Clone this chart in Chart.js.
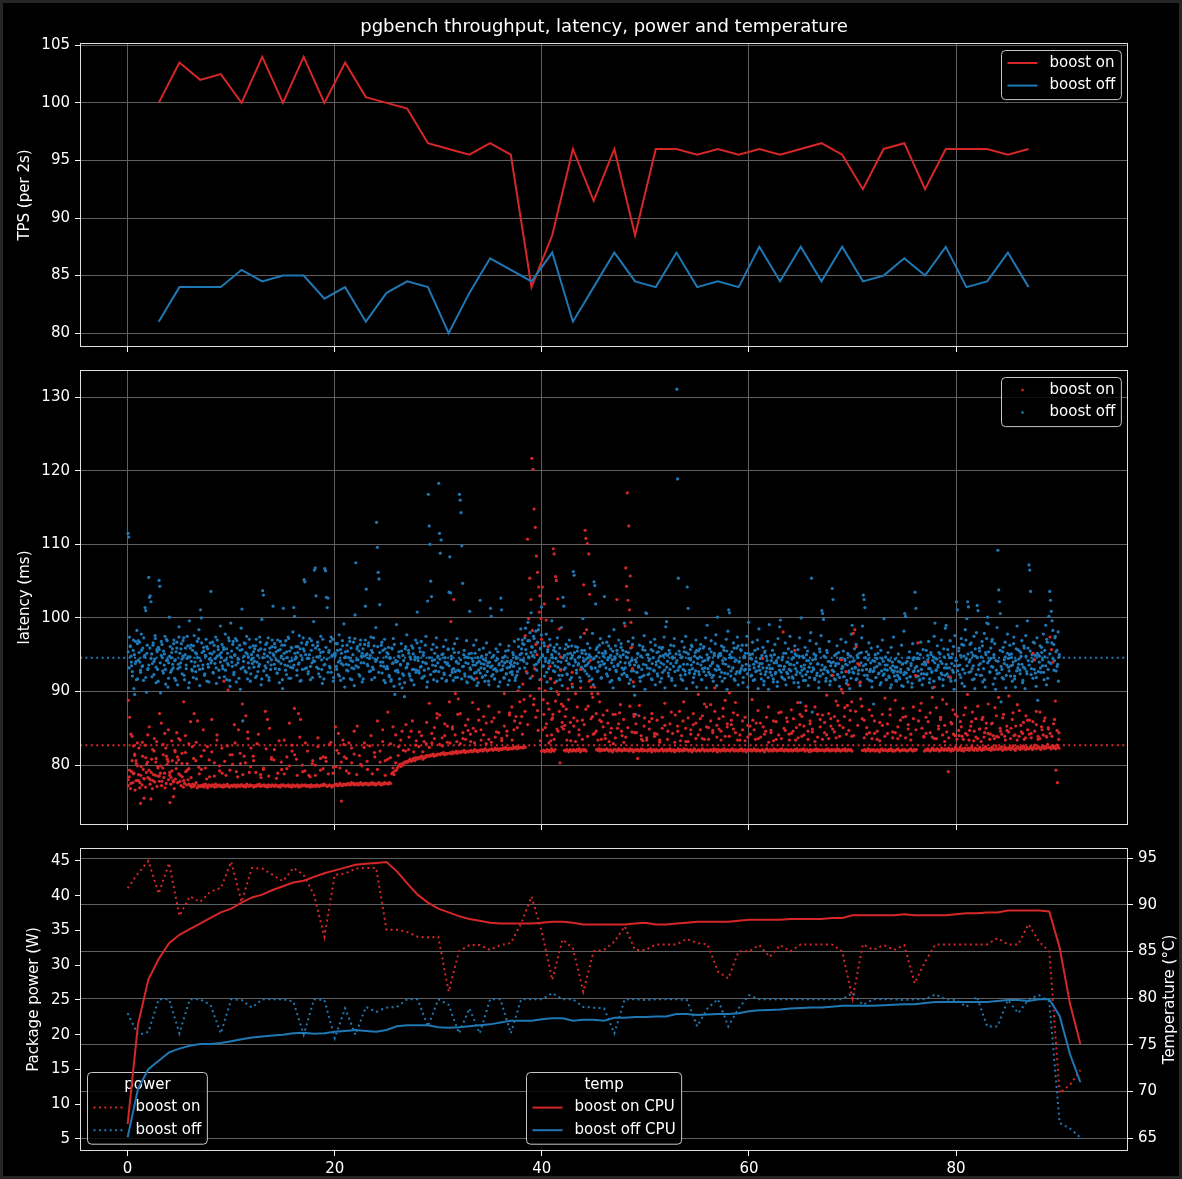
<!DOCTYPE html>
<html>
<head>
<meta charset="utf-8">
<title>pgbench throughput, latency, power and temperature</title>
<script src="https://cdn.jsdelivr.net/npm/chart.js@4.4.1/dist/chart.umd.min.js"></script>
<style>
  html, body { margin: 0; padding: 0; background: #262626; }
  #fig { position: absolute; left: 3px; top: 3px; width: 1176px; height: 1173px; background: #000; }
  canvas { position: absolute; left: 0; top: 0; }
</style>
</head>
<body>
<div id="fig"></div>
<canvas id="tps" width="1182" height="1179"></canvas>
<canvas id="lat" width="1182" height="1179"></canvas>
<canvas id="pow" width="1182" height="1179"></canvas>
<script>
// ---------- throughput (TPS per 2 s window) ----------
const tpsTimes = [3,5,7,9,11,13,15,17,19,21,23,25,27,29,31,33,35,37,39,41,43,45,47,49,51,53,55,57,59,61,63,65,67,69,71,73,75,77,79,81,83,85,87];
const tpsBoostOn = [100,103.5,102,102.5,100,104,100,104,100,103.5,100.5,100,99.5,96.5,96,95.5,96.5,95.5,84,88.5,96,91.5,96,88.5,96,96,95.5,96,95.5,96,95.5,96,96.5,95.5,92.5,96,96.5,92.5,96,96,96,95.5,96];
const tpsBoostOff = [81,84,84,84,85.5,84.5,85,85,83,84,81,83.5,84.5,84,80,83.5,86.5,85.5,84.5,87,81,84,87,84.5,84,87,84,84.5,84,87.5,84.5,87.5,84.5,87.5,84.5,85,86.5,85,87.5,84,84.5,87,84];

// ---------- per-transaction latency (ms), grouped by second of the run ----------
// boost on: the steady floor of each second
const latencyOnBase = [
  [77.2,78.4,76.8,79.1,77.6,78.9,76.6,80.2,77.9],
  [77.9,76.9,78.6,77.3,79.4,78.1,77.0,80.1,78.3],
  [78.2,77.4,79.0,76.8,78.7,77.7,80.4,77.1,78.5],
  [77.8,78.9,77.2,79.6,78.3,76.9,77.5,80.8,78.0],
  [78.6,77.4,79.2,77.9,76.8,78.1,80.3,77.6,78.8],
  [77.8,77.2,78.4,77.0,77.5,79.1,77.3,78.0,77.4],
  [77.2,77.0,77.4,77.1,77.3,77.6,76.9,77.2,77.1],
  [77.2,77.1,77.3,77.0,77.4,77.2,76.9,77.3,77.2],
  [77.1,77.3,77.2,77.0,77.4,77.1,77.2,77.3,77.1],
  [77.2,77.0,77.3,77.1,77.2,77.4,77.1,77.0,77.2],
  [77.2,77.1,77.3,77.2,77.0,77.3,77.2,77.1,77.3],
  [77.3,77.1,77.2,77.0,77.4,77.2,77.1,77.3,77.2],
  [77.2,77.0,77.2,77.1,77.3,77.2,77.4,77.1,77.2],
  [77.2,77.3,77.1,77.2,77.0,77.3,77.2,77.1,77.3],
  [77.2,77.1,77.3,77.2,77.1,77.2,77.0,77.3,77.2],
  [77.3,77.2,77.1,77.2,77.3,77.1,77.2,77.0,77.3],
  [77.2,77.1,77.2,77.3,77.0,77.2,77.1,77.3,77.2],
  [77.2,77.3,77.1,77.2,77.2,77.0,77.3,77.1,77.2],
  [77.2,77.1,77.3,77.2,77.1,77.2,77.3,77.2,77.4],
  [77.3,77.2,77.1,77.2,77.3,77.2,77.0,77.2,77.3],
  [77.3,77.4,77.2,77.3,77.5,77.3,77.2,77.4,77.3],
  [77.4,77.3,77.5,77.4,77.3,77.6,77.4,77.5,77.3],
  [77.4,77.5,77.3,77.4,77.6,77.4,77.3,77.5,77.4],
  [77.5,77.4,77.3,77.5,77.4,77.6,77.4,77.5,77.3],
  [77.4,77.5,77.6,77.4,77.3,77.5,77.4,77.6,77.5],
  [77.5,77.4,77.6,77.5,78.8,79.0,78.7,79.2,79.3],
  [79.6,79.9,80.1,79.8,80.2,80.0,80.4,80.3,80.5],
  [80.4,80.6,80.8,80.5,80.7,80.9,80.6,81.0,80.8],
  [81.0,80.9,81.1,81.2,80.8,81.1,81.0,81.3,81.2],
  [81.3,81.2,81.4,81.3,81.5,81.2,81.4,81.3,81.5],
  [81.5,81.4,81.6,81.5,81.7,81.4,81.6,81.5,81.6],
  [81.6,81.7,81.5,81.8,81.6,81.7,81.9,81.6,81.8],
  [81.8,81.7,81.9,81.8,82.0,81.7,81.8,81.9,81.8],
  [81.9,82.0,81.8,81.9,82.1,81.9,82.0,81.8,82.0],
  [82.0,82.1,81.9,82.0,82.2,82.1,81.9,82.0,82.1],
  [82.1,82.2,82.0,82.1,82.3,82.1,82.2,82.0,82.2],
  [82.2,82.1,82.3,82.2,82.4,82.2,82.1,82.3,82.2],
  [82.3,82.2,82.4,82.3,82.5,82.2,82.4,82.3,82.4],
  [82.4,82.3,82.5,82.4,null,null,null,null,null],
  [null,null,null,null,null,null,null,null,81.9],
  [81.9,82.0,81.8,81.9,82.1,81.9,82.0,81.8,82.2],
  [82.0,81.9,82.1,null,null,null,null,null,null],
  [null,82.0,81.9,82.1,82.0,81.8,82.1,82.0,81.9],
  [82.1,82.0,81.9,82.1,82.0,82.2,81.8,82.0,82.1],
  [82.0,82.1,81.9,null,null,null,null,null,null],
  [null,null,82.1,82.0,82.2,81.9,82.1,82.0,82.1],
  [82.0,82.1,82.2,82.0,81.9,82.1,82.0,81.8,82.1],
  [82.1,82.0,81.9,82.2,82.0,82.1,81.9,82.0,82.2],
  [82.0,82.1,82.0,81.9,82.2,82.0,82.1,81.8,82.0],
  [82.1,82.0,82.1,81.9,82.0,82.2,81.9,82.1,82.0],
  [82.0,81.9,82.1,82.0,82.2,81.8,82.0,82.1,81.9],
  [82.1,82.0,81.9,82.0,82.1,82.2,81.9,82.0,82.1],
  [81.9,82.1,82.0,82.2,81.9,82.0,82.1,81.8,82.0],
  [82.0,82.2,81.9,82.1,82.0,81.9,82.2,82.0,82.1],
  [82.1,81.9,82.0,82.1,81.8,82.0,82.2,82.0,81.9],
  [82.0,82.1,81.9,82.0,82.2,82.1,81.9,82.0,82.1],
  [81.9,82.0,82.1,82.0,81.9,82.2,82.0,82.1,81.8],
  [82.1,82.0,81.9,82.1,82.0,82.2,81.9,82.0,82.1],
  [82.0,81.9,82.1,82.2,82.0,81.9,82.1,82.0,81.9],
  [82.1,82.0,82.2,81.9,82.0,82.1,81.8,82.0,82.1],
  [82.0,82.1,81.9,82.0,82.2,82.0,81.9,82.1,82.0],
  [81.9,82.0,82.1,82.0,81.8,82.1,82.2,82.0,81.9],
  [82.1,82.0,81.9,82.2,82.0,82.1,81.9,82.0,82.1],
  [82.0,82.2,82.0,81.9,82.1,82.0,82.1,81.9,82.0],
  [82.1,81.9,82.0,82.1,82.0,82.2,81.9,82.0,82.1],
  [82.0,82.1,82.2,81.9,82.0,82.1,82.0,81.8,82.1],
  [81.9,82.0,82.1,82.0,82.2,81.9,82.1,82.0,82.0],
  [82.1,82.0,81.9,82.1,82.0,82.2,82.0,81.9,82.1],
  [82.0,82.1,82.0,81.9,82.2,82.0,82.1,81.9,82.0],
  [82.1,82.0,82.2,81.9,82.0,82.1,82.0,82.1,81.9],
  [null,null,null,null,null,null,null,null,82.0],
  [82.0,82.1,81.9,82.0,82.2,82.0,81.9,82.1,82.0],
  [82.1,81.9,82.0,82.1,82.0,81.8,82.1,82.2,82.0],
  [82.0,82.1,82.0,81.9,82.1,82.0,82.2,81.9,82.0],
  [81.9,82.0,82.1,82.2,82.0,81.9,82.0,82.1,82.0],
  [82.1,82.0,81.9,82.0,82.1,82.2,82.0,81.9,82.1],
  [82.0,82.1,null,null,null,null,null,null,81.9],
  [82.1,82.0,82.2,82.0,81.9,82.1,82.3,82.0,82.1],
  [82.0,82.2,82.1,81.9,82.0,82.3,82.1,82.0,82.2],
  [82.1,82.0,82.3,82.1,81.9,82.2,82.0,82.1,82.4],
  [82.2,82.0,82.1,82.4,82.0,82.2,81.9,82.3,82.1],
  [82.1,82.3,82.0,82.2,82.5,82.1,82.0,82.3,82.2],
  [82.0,82.2,82.4,82.1,82.0,82.3,82.1,82.5,82.2],
  [82.2,82.1,82.3,82.0,82.4,82.2,82.1,82.6,82.2],
  [82.1,82.3,82.2,82.5,82.0,82.2,82.4,82.1,82.3],
  [82.2,82.4,82.1,82.3,82.6,82.2,82.0,82.3,82.5],
  [82.3,82.1,82.4,82.2,82.6,82.3,82.1,82.4,82.2],
  [82.2,82.5,82.3,82.1,82.4,82.7,82.2,82.3,82.5],
  [82.3,82.1,82.4,82.6,82.2,82.5,82.3,82.8,82.4],
  [82.4,82.2,82.6,82.3,82.5,82.2,82.7,82.4,82.3]
];
// boost on: slower transactions, including the spikes
const latencyOnHigh = [
  [88.8,86.5,84.2,83.9,82.6,81.3,80.6,79.9],
  [82.3,74.8,83.1,75.5,81.0,80.4],
  [85.2,75.4,82.1,83.6,80.9,79.8],
  [87.0,85.7,82.8,84.3,81.2,80.5],
  [74.9,83.3,75.7,81.8,84.4,80.7],
  [83.4,81.6,88.6,84.0,80.2,79.5],
  [85.9,82.5,87.0,80.6,86.0,78.8],
  [81.2,84.8,79.6,82.5,78.4],
  [86.2,80.3,84.1,79.2],
  [82.3,91.4,78.6,90.2,81.4],
  [81.4,85.5,79.1,84.8,80.2],
  [88.3,81.2,86.7,84.5,79.0,82.3],
  [80.6,82.9,78.7],
  [79.4,87.3,86.2,85.0,81.0],
  [82.1,78.9,80.4],
  [83.4,79.5,85.7,81.9],
  [87.7,80.8,87.0,86.2,79.1],
  [83.0,78.6,80.2],
  [80.0,82.5,79.3,81.1],
  [80.5,82.8,78.9],
  [85.2,82.0,84.3,79.6,75.1,83.4,81.1],
  [79.2,83.0,80.3,81.5],
  [85.3,80.1,82.4],
  [79.4,84.0,81.7],
  [86.0,80.4,83.2,78.6],
  [87.2,81.0,85.2,80.3],
  [82.5,84.6,81.9],
  [83.8,86.0,82.7],
  [84.5,81.8,82.9],
  [88.4,83.0,85.1,86.4],
  [86.8,82.6,84.0,85.3],
  [88.6,99.5,84.9,102.5,89.7,83.2,89.0],
  [87.0,83.6,85.4,84.7],
  [84.2,88.5,83.0,91.8,86.1],
  [84.8,86.6,82.9,83.5],
  [85.9,83.8,84.4],
  [83.3,89.7,84.6,87.1],
  [87.9,84.8,86.6,90.1,85.7],
  [86.6,91.0,88.9,97.6,92.7,110.7,99.9,105.4,102.5],
  [121.7,98.3,120.2,88.2,114.8,93.1,112.3,86.5,108.4,95.0,106.2,84.7,104.2,90.4,103.0,83.3,99.9,97.1],
  [104.2,88.9,101.9,85.1,99.7,84.0,96.1,87.6,93.4,83.3,86.2],
  [86.4,109.4,108.7,91.2,105.6,105.1,84.9,102.6,89.6,98.5,80.3,94.7,88.3,85.8],
  [88.0,85.4,87.6,90.4,84.5,83.3,92.6],
  [86.4,89.7,86.0,84.1,93.0,83.5],
  [104.5,97.9,111.9,110.8,98.4,110.1,88.0,108.7,103.2,94.2,90.6,89.7,86.6,84.2],
  [90.6,84.6,89.7,86.1,83.5,85.2],
  [84.1,87.4,83.2,85.0,82.9],
  [86.9,102.5,85.6,88.2,84.0,83.1],
  [98.9,106.8,104.3,117.0,102.4,112.5,101.1,105.7,99.4,96.0,93.1,91.3,86.9,84.4],
  [85.6,80.9,88.1,84.0,83.3,86.4],
  [83.7,85.9,87.0,84.3],
  [86.1,83.4,85.0,88.4],
  [84.6,87.2,83.1],
  [85.3,87.3,84.0,88.6,83.2],
  [86.4,84.2,85.5,83.6],
  [89.6,84.8,86.7,83.5,87.9],
  [85.1,88.2,84.4,90.5,83.8],
  [86.3,84.6,87.7,83.9,85.2],
  [89.8,86.1,84.9,88.5,83.4],
  [84.1,86.0,83.3,85.4],
  [85.3,88.9,84.8,85.7,83.6],
  [85.7,94.5,84.2,86.5,83.1],
  [84.4,86.0,83.5,87.1],
  [87.2,98.1,84.7,85.9,83.4],
  [87.5,84.6,95.6,85.1,83.7,86.9],
  [86.6,84.1,88.0,83.5,85.6],
  [84.9,87.9,83.8,86.2],
  [86.8,84.4,89.5,83.6,85.3],
  [92.2,84.5,88.7,86.0,83.9,94.3],
  [89.8,86.6,92.7,88.1,84.7,87.4,83.9],
  [97.9,98.4,96.1,93.8,93.6,89.0,86.3],
  [86.1,84.2,87.5,83.6],
  [86.0,84.6,83.3,85.4],
  [89.1,84.3,86.8,83.7],
  [88.8,85.2,84.0,86.5],
  [86.6,84.9,83.4,87.9],
  [92.2,96.6,87.4,85.0,83.8],
  [86.5,94.0,84.4,89.2,83.6],
  [87.8,85.3,86.5,84.1,83.2],
  [88.3,79.1,92.0,85.6,84.2,86.9],
  [86.6,84.0,85.2,83.5,87.8],
  [89.6,84.7,85.9,83.3,86.3],
  [88.0,84.9,86.2,83.8,85.0],
  [88.3,84.2,85.7,83.6,86.7],
  [89.2,84.6,86.4,83.9,85.3],
  [89.4,85.0,87.1,84.1,83.4],
  [87.4,84.5,85.8,83.7,86.1],
  [86.1,84.3,95.2,94.3,85.5,83.5],
  [87.2,84.8,86.0,83.9,85.1],
  [97.4,95.7,94.0,86.2,79.3,77.6,84.4]
];
// boost on: the remaining transactions just above the floor
const latencyOnMore = [
  [78.0,79.3,77.5,80.6,78.8,81.5,77.9,83.0],
  [78.7,77.6,79.8,81.2,78.2,82.7,79.0,84.1],
  [79.3,78.0,80.8,77.9,81.9,78.6,83.2,79.6],
  [78.5,79.9,77.8,81.4,78.9,82.3,80.1,84.8],
  [79.0,78.3,80.6,77.7,82.0,79.5,81.1,83.6],
  [78.6,80.2,77.9,81.7,79.3,82.9],
  [78.3,80.9,83.1,79.7],
  [79.4,82.0,78.1,80.7],
  [81.8,78.5,83.4,79.9],
  [78.9,80.5,82.6,79.3],
  [80.1,83.0,78.4,81.6],
  [78.7,80.3,83.6,79.8],
  [81.2,79.0,84.2,78.3],
  [79.6,82.2,78.5,80.8],
  [80.7,78.2,83.3,79.4],
  [78.8,81.1,79.9,82.7],
  [81.4,78.6,83.8,80.0],
  [79.2,81.9,78.4,80.6],
  [78.6,83.7,80.9,79.5],
  [81.0,78.8,83.1,79.7],
  [79.8,81.6,80.4,82.8],
  [80.9,78.9,82.3,84.6],
  [78.7,81.3,79.9,83.0],
  [80.5,82.6,78.8,81.1],
  [79.4,81.9,84.8,80.6],
  [80.8,82.9,79.6,84.1],
  [81.3,83.4,82.0,85.5],
  [82.1,84.6,81.8,83.3],
  [82.5,84.0,83.2,85.8],
  [82.4,84.3,83.6,87.0],
  [82.8,83.7,85.6,83.1],
  [83.0,85.2,84.1,86.9],
  [82.9,84.4,83.5,86.2],
  [83.2,85.0,84.6,87.6],
  [83.4,84.1,85.7,88.0],
  [83.1,86.4,84.5,87.2],
  [83.6,85.3,84.0,86.8],
  [83.4,86.0,85.1,88.6],
  [84.2,87.3,85.5,89.4],
  [92.1,89.0,96.4,87.4,100.8,91.6],
  [84.8,86.9,90.1,85.6,88.4,83.0,91.7,84.1],
  [86.9,83.5,88.7,90.0,84.6,87.3,92.9,85.2],
  [84.9,86.6,83.4,88.9,85.8,91.0],
  [85.3,83.2,87.9,84.8,90.5,86.1],
  [85.5,87.6,83.9,91.4,86.3,89.2],
  [84.3,87.0,83.4,88.6,85.9,86.8],
  [83.6,85.7,84.4,86.9],
  [83.7,85.0,87.1,84.6,86.2],
  [83.8,85.1,88.0,84.5,86.6],
  [84.4,86.7,83.5,85.3],
  [83.4,84.9,86.3,83.9],
  [84.2,83.1,86.5,85.4],
  [83.5,85.6,84.3,86.8],
  [84.6,83.3,86.0,85.0],
  [83.2,84.8,87.0,85.7],
  [84.1,86.3,83.6,88.3,85.2],
  [83.5,86.0,84.7,87.3,85.4],
  [84.9,83.4,86.6,88.8,85.6],
  [83.9,85.5,87.1,84.4,86.8],
  [83.4,84.8,86.5,83.8],
  [84.2,86.1,83.5,87.4],
  [83.8,85.2,84.6,87.9],
  [84.7,83.3,85.9,84.1],
  [83.6,85.0,86.4,84.2],
  [84.3,86.3,83.4,88.5,85.5],
  [83.9,85.3,87.4,84.6,86.0],
  [84.5,83.2,86.9,85.2],
  [83.5,85.8,84.1,87.0,86.3],
  [84.9,86.6,83.7,88.1,85.4,90.3],
  [85.1,87.8,84.2,90.9,86.1,88.6],
  [84.0,87.3,85.4,91.2,88.0],
  [83.7,85.1,84.4,86.7],
  [84.3,83.5,85.8,86.9],
  [83.9,85.6,87.6,84.5],
  [84.4,83.6,86.1,87.7],
  [83.7,85.5,84.2,86.3],
  [84.8,86.0,88.4,83.9],
  [84.3,85.9,87.1,83.8,90.6],
  [83.6,84.9,86.2,88.9,85.4],
  [84.5,83.7,85.8,87.5,84.0],
  [83.5,84.7,85.9,83.9,86.8,84.3],
  [84.1,83.4,85.3,87.2,84.6,83.8],
  [83.6,84.9,83.2,86.5,84.4,85.7],
  [84.3,83.5,85.6,84.0,87.8,83.9],
  [83.8,85.0,84.2,86.9,83.4,84.7],
  [84.5,83.6,86.2,84.0,85.3,88.2],
  [83.9,85.4,84.3,83.5,86.7,84.8],
  [84.2,83.7,85.9,84.6,87.3,83.9],
  [83.6,85.2,84.1,86.4,83.8,84.9],
  [84.3,83.9,85.6,88.7,84.7,83.5]
];
// boost off: outliers first, then the bulk of each second
const latencyOff = [
  [111.5,111.0,97.4,96.2,94.8,93.5,92.1,95.6,90.4,89.6,96.8,94.1,98.3,91.7],
  [96.9,95.3,94.0,92.6,97.8,93.4,95.9,91.5,94.7,101.4,101.0,89.9,96.3,93.1],
  [105.5,102.8,103.0,102.2,95.1,93.8,96.6,92.3,94.4,97.2,91.2,95.7,93.0,96.0],
  [105.1,104.3,89.8,94.9,96.4,92.8,95.5,93.6,97.5,91.0,94.2,96.9,90.6,93.9],
  [100.1,96.1,94.6,92.9,95.8,93.2,97.0,91.8,94.3,95.4,96.7,90.9,93.7,98.8],
  [95.2,93.9,96.5,92.4,94.8,97.3,91.6,95.9,93.1,94.5,96.2,90.5,99.6],
  [94.7,96.3,93.0,95.6,91.9,97.6,94.0,92.7,95.1,96.8,93.5,98.4,90.8],
  [101.1,100.0,95.3,93.6,96.0,92.2,94.9,97.1,91.4,95.8,93.3,94.4,96.6],
  [103.6,94.2,96.7,92.5,95.4,93.8,97.4,91.1,94.8,96.1,92.9,95.0,98.9],
  [94.6,96.4,93.1,95.7,92.0,97.8,94.3,91.6,95.2,93.6,96.9,90.7,99.3],
  [95.5,93.4,96.8,92.6,94.9,97.2,91.3,95.9,93.9,94.4,96.3,90.3,98.6],
  [101.2,86.0,94.1,96.6,92.8,95.3,97.5,91.7,94.7,93.2,96.0,92.4,95.0],
  [94.5,96.2,93.3,95.8,91.9,97.1,94.0,92.7,95.6,93.7,96.7,90.9,99.8],
  [103.7,103.1,95.1,93.5,96.4,92.2,94.8,97.3,91.5,95.9,93.0,94.3,96.1],
  [101.6,94.9,96.5,93.1,95.4,92.5,97.0,94.1,91.2,95.7,93.8,96.3,90.4],
  [101.3,95.2,93.6,96.9,92.3,94.6,97.4,91.8,95.5,93.3,96.0,94.2,98.1],
  [101.4,100.2,94.4,96.1,92.9,95.3,93.7,97.6,91.4,94.9,96.6,93.0,95.8],
  [105.2,104.9,95.0,93.2,96.7,92.4,94.5,97.2,91.6,95.6,93.9,96.3,99.5],
  [106.5,106.8,103.0,94.7,96.2,93.1,95.7,92.0,97.5,94.3,91.1,95.4,93.6],
  [106.7,106.4,102.8,101.4,102.7,95.3,93.4,96.8,92.6,94.8,97.1,91.9,95.1],
  [94.9,96.5,93.0,95.6,92.3,97.7,94.2,91.5,95.2,96.9,93.6,99.2,90.6],
  [95.4,93.7,96.3,92.8,94.6,97.3,91.7,95.9,93.2,94.1,96.7,90.8,100.4],
  [107.5,94.3,96.1,93.3,95.5,92.1,97.0,94.8,91.3,95.8,93.9,96.4,101.6],
  [103.9,95.1,93.5,96.6,92.7,94.9,97.4,91.6,95.3,93.0,96.2,94.4,98.7],
  [113.0,109.6,106.2,105.3,101.8,94.0,96.3,92.5,95.6,93.4,97.1,91.2,94.7],
  [95.3,93.1,96.0,92.0,94.5,91.4,95.9,93.8,97.2,90.7,89.6,94.2,99.1],
  [94.1,92.6,95.4,91.0,93.7,96.5,90.5,94.9,92.2,89.3,95.8,93.2,97.7],
  [93.8,95.6,92.4,94.7,91.6,96.2,93.0,95.1,90.9,94.3,97.0,92.9,100.8],
  [94.6,92.8,95.9,93.3,96.8,91.8,94.0,95.3,92.1,93.9,97.5,90.6,102.3],
  [116.8,112.5,110.0,105.0,102.9,94.2,96.4,92.7,95.2,93.5,97.3,91.4,94.8],
  [118.3,111.5,108.8,110.6,95.0,93.2,96.1,92.3,94.6,97.0,91.5,93.9,95.7],
  [103.5,108.3,103.4,94.4,92.6,95.8,93.1,96.5,91.9,94.0,97.2,92.9,95.3],
  [116.8,116.0,114.3,109.8,104.7,93.4,95.6,92.1,94.7,96.9,91.2,93.8,95.1],
  [100.9,93.0,95.2,91.8,94.1,96.3,92.5,93.6,97.0,90.8,94.6,92.9,95.7],
  [102.4,93.2,94.8,92.0,95.9,93.7,91.4,94.2,96.6,92.7,93.9,90.9,95.3],
  [101.3,100.2,93.5,92.3,94.9,91.7,93.1,95.8,92.8,94.4,90.7,93.8,96.4],
  [102.7,101.1,93.0,94.6,91.9,93.9,95.5,92.4,94.1,90.9,96.2,93.3,92.6],
  [94.2,92.7,95.3,93.4,96.8,91.5,94.7,92.2,93.8,97.1,90.6,95.0,98.5],
  [95.8,97.0,94.3,96.4,93.2,98.6,95.1,92.5,99.4,94.7,96.9,91.8,100.7],
  [96.1,94.8,97.5,93.6,95.4,98.2,92.9,96.7,94.0,99.0,91.6,95.9,101.5],
  [95.0,93.4,96.6,92.1,94.5,97.8,91.3,95.7,93.1,94.2,96.3,90.4,99.6],
  [94.6,92.8,96.0,93.5,95.4,91.4,97.3,94.1,92.2,95.9,93.0,98.7,90.8],
  [102.8,101.6,94.9,93.2,96.4,92.4,95.1,93.8,97.0,91.6,94.5,96.2,90.6],
  [106.3,105.8,94.3,96.1,92.9,95.5,93.6,94.7,91.9,97.4,93.3,95.2,99.9],
  [94.2,95.6,93.5,94.4,92.4,96.5,93.9,95.0,91.5,94.7,93.1,97.9,90.9],
  [104.9,104.4,101.9,94.8,96.0,92.8,95.3,93.4,97.2,91.8,94.1,96.6,93.7],
  [102.9,95.5,93.2,96.7,92.1,94.6,97.5,91.3,95.8,93.9,94.3,90.5,98.4],
  [94.7,96.2,92.7,95.1,93.5,97.0,91.6,94.0,96.5,92.3,95.6,93.0,99.3],
  [93.9,95.4,92.2,94.6,96.8,91.1,93.6,95.9,92.8,94.3,97.3,90.7,89.5],
  [86.9,94.0,92.6,95.2,93.3,96.3,91.4,94.8,92.0,95.7,93.7,97.6,90.3],
  [100.7,100.6,93.2,95.0,92.4,94.4,96.7,91.7,93.8,95.5,92.9,97.1,90.9],
  [93.6,95.3,92.1,94.2,96.0,91.3,93.9,95.8,92.6,94.9,97.4,90.5,98.8],
  [99.5,94.1,92.5,95.6,93.0,96.3,91.8,94.7,93.4,97.2,90.8,95.1],
  [131.1,118.9,105.4,93.3,95.0,92.2,94.6,96.8,91.5,93.7,95.4,92.8,97.5,90.4],
  [104.2,101.3,94.5,92.9,95.7,93.6,96.1,91.2,94.0,92.4,95.3,97.0,90.6],
  [93.8,95.5,92.3,94.7,96.4,91.6,93.1,95.9,92.7,94.2,97.3,90.5,99.0],
  [94.3,92.6,95.8,93.5,96.9,91.9,94.0,92.2,95.2,93.0,97.7,90.8,100.1],
  [93.4,95.1,92.0,94.9,96.2,91.4,93.8,95.6,92.5,94.4,97.1,90.3,98.2],
  [101.1,100.7,94.6,92.8,95.4,93.2,96.6,91.7,94.1,92.4,95.9,97.4,90.9],
  [94.0,92.5,95.7,93.1,96.3,91.2,94.6,92.9,95.2,93.7,97.5,90.6,99.4],
  [93.5,95.0,92.1,94.4,96.7,91.5,93.2,95.6,92.7,94.0,97.0,90.4,98.5],
  [92.9,94.5,91.7,93.8,96.0,90.9,95.3,92.3,94.8,93.2,96.8,90.3,99.1],
  [93.1,94.9,92.2,95.6,91.3,93.9,96.4,92.6,94.2,90.7,97.2,93.5,98.8],
  [99.7,92.6,94.3,91.8,95.2,93.4,96.6,90.9,94.0,92.4,95.8,93.0,97.5],
  [93.7,95.4,92.0,94.6,91.2,96.2,93.1,94.9,92.7,95.7,90.6,97.3,88.5],
  [100.0,92.9,94.8,91.5,93.6,96.0,92.3,94.2,95.5,90.8,93.3,96.9,98.0],
  [105.4,87.2,93.2,95.1,91.8,94.4,96.5,92.5,93.8,90.5,95.8,92.1,97.6],
  [101.0,100.6,99.8,93.0,94.7,91.4,95.6,92.8,94.1,96.8,90.9,93.5,92.2],
  [104.0,102.5,92.7,94.9,91.6,93.8,96.2,92.3,95.3,90.7,94.4,97.1,93.1],
  [93.4,95.5,92.0,94.2,96.7,91.1,93.6,95.0,92.6,90.4,94.8,97.8,99.0],
  [94.1,92.5,95.8,93.3,96.4,91.7,94.6,92.9,95.2,90.8,93.9,97.3,98.9],
  [103.1,102.5,101.4,93.7,95.4,92.2,94.3,96.6,91.5,93.0,95.9,90.6,92.7],
  [88.3,93.2,95.0,91.9,94.5,96.1,92.4,93.8,90.9,95.6,92.8,97.0,94.1],
  [99.9,93.0,94.7,91.6,93.6,95.3,92.1,94.2,90.5,96.0,92.9,93.5,97.4],
  [92.8,94.4,91.5,93.3,92.2,95.1,91.9,94.0,92.6,96.3,93.7,90.7,98.2],
  [100.6,100.2,92.5,94.1,91.3,93.0,95.4,92.0,93.8,90.6,96.5,92.7,94.6],
  [103.5,101.3,93.4,95.2,92.1,94.5,91.6,96.7,93.0,90.9,95.7,92.4,94.0],
  [93.9,95.6,92.4,94.3,96.8,91.2,93.1,95.0,92.7,90.5,94.7,97.5,99.3],
  [94.5,92.9,96.2,93.6,95.3,91.7,94.1,97.0,92.3,90.8,95.8,93.2,98.6],
  [99.0,93.2,95.7,92.0,94.6,96.9,91.4,93.8,95.1,92.6,90.3,97.6,94.2],
  [102.2,101.1,93.5,95.9,92.3,94.9,97.2,91.1,93.0,96.3,90.7,98.4,94.4],
  [99.9,102.2,101.5,94.0,96.4,92.7,95.3,91.6,93.5,97.5,90.4,94.8,98.0],
  [101.7,101.0,93.6,95.5,92.2,94.7,96.8,91.3,93.1,97.9,90.6,95.0,99.3],
  [100.1,99.2,94.2,92.6,95.9,93.4,97.1,91.0,94.6,96.5,90.3,92.9,98.7],
  [109.2,103.8,102.2,100.6,88.6,93.0,95.4,91.7,94.3,96.7,90.5,93.6,97.8],
  [94.5,92.8,96.3,93.5,95.1,91.4,94.0,97.4,92.1,90.6,95.8,98.9,93.2],
  [93.7,95.5,92.4,94.8,96.9,91.2,93.3,95.9,90.4,97.6,92.7,99.6,94.2],
  [107.2,106.5,103.6,93.1,95.0,91.8,94.4,96.6,92.5,90.7,97.3,88.8,94.9],
  [94.0,96.2,92.6,95.3,93.5,97.8,91.6,94.7,99.0,90.9,96.7,93.0,100.2],
  [103.6,102.4,100.9,99.6,98.3,96.4,94.2,97.5,92.8,95.6,93.7,91.4,95.0]
];
// boost off: further transactions in the same seconds (the dense core)
const latencyOffMore = [
  [95.4,93.2,96.1,94.0,92.7,97.0,95.0,93.8,91.6,96.5],
  [94.3,96.7,92.9,95.6,93.5,97.3,94.9,91.9,95.2,93.0],
  [93.6,95.9,94.5,92.0,96.3,94.1,97.6,93.3,95.4,91.4],
  [95.7,93.9,96.8,94.6,92.5,95.1,93.0,97.1,94.3,91.8],
  [94.8,92.6,95.3,93.7,96.5,94.2,91.5,95.9,93.1,97.4],
  [93.3,95.8,94.4,96.9,92.2,95.0,93.6,97.5,94.7,91.2],
  [95.9,94.1,92.8,96.2,93.4,95.3,91.7,94.6,97.2,93.0],
  [94.2,96.6,93.1,95.5,92.4,94.8,96.1,93.7,91.3,95.2],
  [93.9,95.1,92.6,96.3,94.5,93.2,97.0,95.7,91.9,94.0],
  [95.3,93.5,96.0,94.2,92.9,95.8,93.8,97.3,91.5,94.7],
  [94.0,96.4,92.3,95.0,93.6,96.9,94.4,91.8,95.6,93.1],
  [95.7,93.3,94.8,96.5,92.6,95.1,93.9,97.1,91.4,94.3],
  [93.8,95.4,94.1,96.2,92.1,94.9,93.4,97.4,95.8,91.7],
  [94.6,92.8,95.7,93.2,96.6,94.0,91.9,95.3,93.6,97.0],
  [95.1,93.7,96.0,94.3,92.5,95.6,93.0,96.8,94.8,91.6],
  [94.4,96.3,92.9,95.4,93.5,97.2,94.1,91.8,95.9,93.2],
  [93.6,95.2,94.7,92.2,96.1,93.9,95.8,91.5,94.3,97.3],
  [95.5,93.1,96.4,94.5,92.7,95.0,93.4,96.9,91.9,94.2],
  [94.1,95.9,93.3,96.7,92.4,94.8,95.3,93.0,97.1,91.7],
  [93.7,96.0,94.4,92.6,95.6,93.2,97.4,94.9,91.4,95.1],
  [95.2,93.4,96.5,94.0,92.1,95.7,93.8,96.2,91.8,94.6],
  [94.7,92.9,95.5,93.6,96.8,94.2,91.6,95.0,93.1,97.2],
  [93.5,95.8,94.3,92.3,96.4,93.9,95.2,91.7,94.8,97.0],
  [95.0,93.7,96.2,94.5,92.8,95.6,93.3,97.3,91.9,94.1],
  [94.3,96.1,92.6,95.3,93.5,96.7,94.0,91.5,95.8,93.1],
  [93.4,95.1,92.2,94.6,91.6,95.8,93.9,96.4,92.8,94.0],
  [92.9,94.8,91.7,93.6,95.5,92.4,94.2,91.2,96.1,93.3],
  [93.7,95.2,92.1,94.4,91.5,95.9,93.0,94.7,92.6,96.6],
  [94.2,92.5,95.4,93.4,91.9,94.9,92.9,96.3,93.8,91.3],
  [93.1,94.6,92.3,95.7,93.6,91.6,94.3,92.8,96.0,93.9],
  [92.7,94.4,93.3,91.8,95.1,92.5,94.0,91.4,93.7,95.8],
  [93.5,92.2,94.8,93.0,91.5,95.3,92.7,94.1,91.9,93.8],
  [92.8,94.3,91.7,93.4,95.0,92.4,93.9,91.3,94.6,92.0],
  [93.2,92.0,94.5,93.6,91.6,95.2,92.6,93.9,91.2,94.1],
  [92.5,93.8,91.9,94.4,93.1,92.2,95.0,93.5,91.4,94.0],
  [93.3,92.1,94.7,93.0,91.7,94.2,92.8,95.4,93.6,91.3],
  [92.9,94.1,93.5,91.8,94.8,92.4,93.2,95.6,91.5,93.9],
  [93.6,92.3,95.0,93.9,91.9,94.5,92.7,96.1,93.1,94.3],
  [95.2,96.5,94.1,97.3,95.7,93.8,96.9,94.6,98.0,95.3],
  [96.0,94.9,97.2,95.5,93.7,96.6,98.4,94.3,95.8,97.7],
  [94.8,93.5,96.2,94.1,92.6,95.4,93.9,97.1,91.8,95.0],
  [93.9,95.6,92.7,94.5,96.4,93.3,95.1,91.6,94.0,92.2],
  [94.6,93.0,95.8,94.2,92.3,96.1,93.7,95.2,91.9,94.9],
  [93.5,95.3,94.0,92.5,96.0,93.8,94.7,91.4,95.6,93.1],
  [94.1,92.8,95.1,93.6,94.6,92.1,95.9,93.3,91.7,94.4],
  [94.5,93.2,95.7,92.7,94.0,96.3,93.6,91.9,95.2,94.8],
  [93.8,95.2,92.4,94.3,96.2,93.0,94.9,91.5,95.5,93.4],
  [94.4,92.9,95.6,93.7,91.8,94.8,96.0,93.2,95.0,92.5],
  [93.2,94.7,92.0,95.3,93.9,91.6,94.2,96.4,92.8,93.6],
  [94.3,92.6,95.1,93.5,91.9,94.8,93.0,96.1,92.2,95.6],
  [93.6,95.0,92.3,94.2,93.1,95.7,91.6,94.6,92.8,96.3],
  [94.0,92.4,95.4,93.3,94.8,91.8,96.0,93.7,92.9,95.1],
  [93.3,94.9,92.1,95.2,93.8,91.5,94.5,96.2,92.7,93.9],
  [94.2,92.9,95.5,93.4,91.7,94.7,93.0,96.0,92.3,95.3],
  [93.7,95.1,92.5,94.3,96.3,93.1,91.9,94.8,92.8,95.6],
  [94.5,92.7,95.8,93.6,91.6,94.1,96.1,93.2,92.2,95.0],
  [93.1,94.6,92.3,95.4,93.8,91.4,94.9,96.5,92.9,93.5],
  [94.8,93.0,95.2,92.6,94.2,96.0,91.8,93.7,95.5,92.4],
  [93.4,95.0,92.1,94.6,93.2,95.9,91.5,94.3,92.7,96.2],
  [94.1,92.8,95.6,93.5,91.9,94.8,93.0,96.3,92.4,95.2],
  [93.0,94.5,92.2,95.1,93.7,91.6,94.1,92.8,95.8,93.4],
  [93.8,92.4,94.9,93.2,91.4,95.5,92.7,94.2,91.9,93.6],
  [92.6,94.2,93.1,91.7,95.0,92.4,93.9,91.3,94.6,92.9],
  [93.5,92.0,94.7,93.0,91.6,95.2,92.6,94.0,91.9,93.7],
  [92.8,94.4,91.8,93.6,95.1,92.3,93.9,91.2,94.8,92.5],
  [93.4,92.1,94.6,93.1,91.5,95.0,92.7,94.2,91.9,93.8],
  [92.7,94.3,93.0,91.6,94.9,92.2,93.7,91.3,95.4,92.9],
  [93.6,92.4,94.8,93.3,91.8,95.3,92.6,94.1,91.4,93.9],
  [92.9,94.0,91.7,93.5,95.1,92.3,93.8,91.9,94.5,92.6],
  [93.3,92.0,94.4,93.7,91.5,95.2,92.8,94.0,91.8,93.1],
  [92.6,94.2,93.2,91.6,94.9,92.4,93.6,91.3,95.3,92.9],
  [93.5,92.2,94.6,93.0,91.7,95.0,92.7,93.9,91.4,94.2],
  [92.8,94.1,91.9,93.4,95.2,92.5,93.7,91.2,94.5,92.2],
  [92.4,93.6,91.6,92.9,94.3,91.9,93.2,90.9,94.0,92.6],
  [92.1,93.3,91.4,92.7,94.1,91.7,93.0,90.8,93.8,92.3],
  [92.6,93.9,91.8,93.1,94.6,92.0,93.5,91.1,94.3,92.8],
  [93.2,92.0,94.5,92.8,91.5,95.0,92.4,93.7,91.8,94.0],
  [93.6,92.3,94.9,93.1,91.7,95.3,92.6,94.2,91.4,93.9],
  [92.9,94.4,93.3,91.9,95.1,92.5,93.8,91.6,94.7,92.2],
  [93.7,92.4,95.0,93.2,91.8,94.6,92.9,96.1,93.5,91.5],
  [94.2,92.8,95.5,93.6,91.9,96.4,93.0,94.8,92.5,97.0],
  [93.5,95.1,92.6,94.3,96.6,93.1,94.9,91.7,95.8,92.3],
  [94.6,93.0,95.9,93.8,92.2,96.2,94.1,91.6,95.3,97.2],
  [93.9,95.4,92.7,94.5,96.8,93.3,95.0,91.8,94.2,92.4],
  [94.1,92.5,95.6,93.4,91.9,96.0,93.8,94.7,92.2,95.2],
  [93.3,95.0,92.1,94.6,93.6,96.5,91.7,94.2,92.8,95.7],
  [94.4,92.9,95.3,93.7,91.5,96.2,93.1,94.8,92.4,95.9],
  [93.6,95.5,92.3,94.1,96.7,93.0,94.9,91.9,95.2,92.7],
  [94.8,93.2,96.0,94.3,92.6,95.6,93.5,97.1,91.8,94.0],
  [95.1,93.8,96.6,94.5,92.9,97.3,95.4,93.4,98.1,94.7]
];
// run means, drawn as dotted reference lines
const latencyMeanOn = 82.7;
const latencyMeanOff = 94.6;

// ---------- package power (W) and CPU temperature (°C), one sample per second ----------
const powerBoostOn = [41.1,43.2,45.0,40.3,44.7,37.1,39.9,39.1,40.6,41.1,44.9,39.1,44.0,43.9,43.0,42.1,44.0,43.0,40.1,34.1,43.0,43.2,43.9,44.0,44.0,35.1,35.1,34.8,34.1,34.0,34.1,26.2,32.0,32.9,32.9,32.2,32.9,33.2,36.0,39.9,34.8,27.9,33.7,32.4,26.2,32.0,32.2,33.4,35.6,32.2,32.2,33.0,33.0,33.0,33.8,33.2,33.0,29.1,28.1,32.0,32.0,32.9,31.2,32.9,32.0,33.0,33.0,33.0,33.0,32.0,25.2,33.0,32.2,32.9,32.2,32.9,27.4,30.5,33.0,33.0,33.0,33.0,33.0,33.0,33.9,33.0,33.0,35.9,33.4,32.0,11.6,12.8,14.9];
const powerBoostOff = [23.1,20.0,20.4,25.1,25.1,20.2,25.1,25.1,24.3,20.2,25.1,25.0,23.9,25.1,25.1,25.1,24.8,20.0,25.1,25.0,19.5,23.8,20.0,24.0,23.3,23.9,24.0,25.1,25.1,21.2,25.1,24.3,20.2,23.8,20.2,25.1,25.1,20.2,25.1,25.1,25.1,26.0,25.1,25.1,24.0,23.9,23.8,20.2,25.1,25.1,25.0,25.1,25.1,25.1,25.0,21.2,23.8,25.1,21.2,23.8,25.7,25.1,25.1,25.1,25.1,25.1,25.1,25.1,25.1,25.1,26.0,24.3,25.1,25.1,25.1,25.0,25.1,25.1,25.8,25.1,25.0,24.0,25.5,21.2,21.2,25.0,23.1,25.1,25.7,24.8,7.3,6.5,5.2];
const tempBoostOn = [66.5,77.2,82.0,84.2,85.9,86.8,87.4,88.0,88.6,89.2,89.6,90.25,90.8,91.1,91.6,92.0,92.4,92.6,93.0,93.4,93.7,94.0,94.3,94.4,94.5,94.6,93.6,92.3,91.1,90.25,89.6,89.2,88.8,88.5,88.3,88.1,88.0,88.0,88.0,88.0,88.1,88.2,88.2,88.1,87.9,87.9,87.9,87.9,87.9,88.0,88.1,87.9,87.9,88.0,88.1,88.2,88.2,88.2,88.2,88.3,88.4,88.4,88.4,88.4,88.5,88.5,88.5,88.5,88.6,88.6,88.9,88.9,88.9,88.9,88.9,89.0,88.9,88.9,88.9,88.9,89.0,89.1,89.1,89.2,89.2,89.4,89.4,89.4,89.4,89.3,85.4,79.4,75.1];
const tempBoostOff = [65.1,70.3,72.4,73.3,74.2,74.6,74.9,75.1,75.1,75.2,75.4,75.6,75.8,75.9,76.0,76.1,76.25,76.3,76.2,76.25,76.4,76.5,76.6,76.5,76.4,76.6,77.0,77.1,77.1,77.1,76.9,76.85,76.9,77.0,77.1,77.2,77.4,77.6,77.6,77.6,77.75,77.85,77.85,77.6,77.7,77.7,77.6,77.9,77.9,78.0,78.0,78.05,78.05,78.3,78.3,78.2,78.25,78.3,78.3,78.4,78.6,78.7,78.75,78.8,78.9,78.95,79.0,79.0,79.1,79.2,79.2,79.2,79.2,79.25,79.3,79.35,79.35,79.5,79.6,79.6,79.6,79.6,79.6,79.6,79.7,79.8,79.8,79.7,79.9,79.9,78.1,74.0,71.0];

// ---------- axis ticks ----------
const timeTicks = [0, 20, 40, 60, 80];
const tpsTicks = [80, 85, 90, 95, 100, 105];
const latencyTicks = [80, 90, 100, 110, 120, 130];
const powerTicks = [5, 10, 15, 20, 25, 30, 35, 40, 45];
const tempTicks = [65, 70, 75, 80, 85, 90, 95];

// ---------- look ----------
const RED = '#d62728';
const BLUE = '#1f77b4';
const FG = '#ffffff';
const GRID = '#5f5f5f';
const SPINE = '#e0e0e0';
const FONT = 'DejaVu Sans';
const FS = 15;
const DOT_R = 1.6;
const X_RANGE = { min: -4.6, max: 96.6 };

Chart.defaults.font.family = FONT;
Chart.defaults.font.size = FS;
Chart.defaults.color = FG;

const toXY = (xs, ys) => ys.map((y, i) => ({ x: xs[i], y }));
const perSecond = ys => ys.map((y, i) => ({ x: i, y }));
// place the transactions of each second evenly across that second
function spreadBins(bins) {
  const pts = [];
  bins.forEach((vals, sec) => {
    vals.forEach((v, k) => {
      if (v !== null) pts.push({ x: sec + (k + 0.5) / vals.length, y: v });
    });
  });
  return pts;
}
const fixTicks = values => scale => { scale.ticks = values.map(v => ({ value: v })); };

function timeAxis(showLabels, gridOnArea) {
  return {
    type: 'linear', min: X_RANGE.min, max: X_RANGE.max,
    afterBuildTicks: fixTicks(timeTicks),
    afterFit: s => { s.height = showLabels ? 28 : 10; },
    grid: { color: GRID, lineWidth: 1, drawOnChartArea: gridOnArea, drawTicks: true,
            tickLength: 5, tickColor: FG, tickWidth: 1 },
    border: { display: false },
    ticks: { display: showLabels, color: FG, padding: 4, maxRotation: 0, autoSkip: false,
             font: { family: FONT, size: FS } }
  };
}
function valueAxis(o) {
  return {
    type: 'linear', position: o.position || 'left', min: o.min, max: o.max,
    afterBuildTicks: fixTicks(o.ticks),
    afterFit: s => { s.width = o.width; },
    grid: { color: GRID, lineWidth: 1, drawOnChartArea: o.grid, drawTicks: true,
            tickLength: 5, tickColor: FG, tickWidth: 1 },
    border: { display: false },
    ticks: { color: FG, padding: 5, font: { family: FONT, size: FS },
             callback: v => String(v) },
    title: { display: !!o.title, text: o.title || '', color: FG,
             font: { family: FONT, size: FS }, padding: { top: o.titlePad || 0, bottom: 0 } }
  };
}

// axes frame (all four spines)
function drawFrame(chart) {
  const { ctx, chartArea: a } = chart;
  ctx.save();
  ctx.strokeStyle = SPINE;
  ctx.lineWidth = 1;
  ctx.strokeRect(Math.round(a.left) + 0.5, Math.round(a.top) + 0.5,
                 Math.round(a.right - a.left) - 1, Math.round(a.bottom - a.top) - 1);
  ctx.restore();
}

// boxed legend drawn inside the axes
function drawLegendBox(chart, g) {
  const { ctx, chartArea: a } = chart;
  const items = g.datasets.map(i => chart.data.datasets[i]);
  ctx.save();
  ctx.font = FS + 'px "' + FONT + '"';
  const pad = 6, handle = 30, gap = 12, rowH = 22.6, first = 12.5, last = 14;
  const textW = Math.max(...items.map(d => ctx.measureText(d.label).width));
  let w = pad + handle + gap + textW + pad;
  if (g.title) w = Math.max(w, ctx.measureText(g.title).width + 2 * pad);
  const rows = items.length + (g.title ? 1 : 0);
  const h = first + (rows - 1) * rowH + last;
  let x, y;
  if (g.place === 'upper right') { x = a.right - 7 - w; y = a.top + 7; }
  else if (g.place === 'lower left') { x = a.left + 7; y = a.bottom - 7 - h; }
  else { x = (a.left + a.right) / 2 - w / 2; y = a.bottom - 7 - h; }
  x = Math.round(x) + 0.5; y = Math.round(y) + 0.5;
  ctx.beginPath();
  if (ctx.roundRect) ctx.roundRect(x, y, w, h, 4); else ctx.rect(x, y, w, h);
  ctx.fillStyle = 'rgba(0,0,0,0.8)';
  ctx.fill();
  ctx.strokeStyle = '#c8c8c8';
  ctx.lineWidth = 1;
  ctx.stroke();
  ctx.textBaseline = 'middle';
  ctx.fillStyle = FG;
  let row = 0;
  if (g.title) {
    ctx.textAlign = 'center';
    ctx.fillText(g.title, x + w / 2, y + first);
    row = 1;
  }
  ctx.textAlign = 'left';
  items.forEach(d => {
    const cy = y + first + row * rowH;
    const hx = x + pad;
    if (g.handle === 'dot') {
      ctx.beginPath();
      ctx.arc(hx + handle / 2, cy, 1.3, 0, Math.PI * 2);
      ctx.fillStyle = d.backgroundColor;
      ctx.fill();
    } else {
      ctx.beginPath();
      ctx.setLineDash(g.handle === 'dotted' ? [2, 3.4] : []);
      ctx.moveTo(hx, cy);
      ctx.lineTo(hx + handle, cy);
      ctx.strokeStyle = d.borderColor;
      ctx.lineWidth = 2;
      ctx.stroke();
      ctx.setLineDash([]);
    }
    ctx.fillStyle = FG;
    ctx.fillText(d.label, hx + handle + gap, cy);
    row++;
  });
  ctx.restore();
}

function legendPlugin(groups) {
  return {
    id: 'boxLegends',
    afterDatasetDraw(chart, args) {
      groups.forEach(g => { if (g.afterDataset === args.index) drawLegendBox(chart, g); });
    },
    afterDatasetsDraw(chart) {
      drawFrame(chart);
      groups.forEach(g => { if (g.afterDataset === undefined) drawLegendBox(chart, g); });
    }
  };
}

const common = {
  responsive: false, animation: false, devicePixelRatio: 1, events: [],
  plugins: { legend: { display: false }, tooltip: { enabled: false } }
};

// ---------- panel 1: throughput ----------
new Chart(document.getElementById('tps'), {
  type: 'line',
  data: {
    datasets: [
      { label: 'boost on', data: toXY(tpsTimes, tpsBoostOn), borderColor: RED, backgroundColor: RED,
        borderWidth: 2, pointRadius: 0, tension: 0, order: 1 },
      { label: 'boost off', data: toXY(tpsTimes, tpsBoostOff), borderColor: BLUE, backgroundColor: BLUE,
        borderWidth: 2, pointRadius: 0, tension: 0, order: 0 }
    ]
  },
  options: {
    ...common,
    layout: { padding: { top: 0, left: 0, right: 54, bottom: 1179 - 347 - 10 } },
    plugins: {
      ...common.plugins,
      title: { display: true, text: 'pgbench throughput, latency, power and temperature',
               fullSize: false, color: FG, font: { family: FONT, size: 18, weight: 'normal' },
               padding: { top: 16.2, bottom: 5.2 } }
    },
    scales: {
      x: timeAxis(false, true),
      y: valueAxis({ min: 78.8, max: 105.2, ticks: tpsTicks, width: 80, grid: true,
                     title: 'TPS (per 2s)', titlePad: 16 })
    }
  },
  plugins: [legendPlugin([{ datasets: [0, 1], place: 'upper right', handle: 'line' }])]
});

// ---------- panel 2: latency ----------
const dotStyle = { pointRadius: DOT_R, pointBorderWidth: 0, pointHoverRadius: 0 };
new Chart(document.getElementById('lat'), {
  type: 'scatter',
  data: {
    datasets: [
      { label: 'boost on',
        data: [...spreadBins(latencyOnBase), ...spreadBins(latencyOnMore), ...spreadBins(latencyOnHigh)],
        backgroundColor: RED, borderColor: RED, ...dotStyle, order: 0 },
      { label: 'boost off',
        data: [...spreadBins(latencyOff), ...spreadBins(latencyOffMore)],
        backgroundColor: BLUE, borderColor: BLUE, ...dotStyle, order: 1 },
      { label: 'mean on', data: [{ x: X_RANGE.min, y: latencyMeanOn }, { x: X_RANGE.max, y: latencyMeanOn }],
        showLine: true, borderColor: RED, borderWidth: 2, borderDash: [2, 3.4], pointRadius: 0, order: 2 },
      { label: 'mean off', data: [{ x: X_RANGE.min, y: latencyMeanOff }, { x: X_RANGE.max, y: latencyMeanOff }],
        showLine: true, borderColor: BLUE, borderWidth: 2, borderDash: [2, 3.4], pointRadius: 0, order: 3 }
    ]
  },
  options: {
    ...common,
    layout: { padding: { top: 370, left: 0, right: 54, bottom: 1179 - 825 - 10 } },
    scales: {
      x: timeAxis(false, true),
      y: valueAxis({ min: 71.85, max: 133.7, ticks: latencyTicks, width: 80, grid: true,
                     title: 'latency (ms)', titlePad: 16 })
    }
  },
  plugins: [legendPlugin([{ datasets: [0, 1], place: 'upper right', handle: 'dot' }])]
});

// ---------- panel 3: power and temperature ----------
const rightTitle = {
  id: 'rightTitle',
  afterDraw(chart) {
    const { ctx, chartArea: a } = chart;
    ctx.save();
    ctx.translate(1170, (a.top + a.bottom) / 2);
    ctx.rotate(-Math.PI / 2);
    ctx.font = FS + 'px "' + FONT + '"';
    ctx.fillStyle = FG;
    ctx.textAlign = 'center';
    ctx.textBaseline = 'middle';
    ctx.fillText('Temperature (°C)', 0, 0);
    ctx.restore();
  }
};

new Chart(document.getElementById('pow'), {
  type: 'line',
  data: {
    datasets: [
      { label: 'boost on CPU', data: perSecond(tempBoostOn), yAxisID: 'y1', borderColor: RED,
        backgroundColor: RED, borderWidth: 2, pointRadius: 0, tension: 0, order: 0 },
      { label: 'boost off CPU', data: perSecond(tempBoostOff), yAxisID: 'y1', borderColor: BLUE,
        backgroundColor: BLUE, borderWidth: 2, pointRadius: 0, tension: 0, order: 1 },
      { label: 'boost on', data: perSecond(powerBoostOn), yAxisID: 'y', borderColor: RED,
        backgroundColor: RED, borderWidth: 2, borderDash: [2, 3.4], pointRadius: 0, tension: 0, order: 2 },
      { label: 'boost off', data: perSecond(powerBoostOff), yAxisID: 'y', borderColor: BLUE,
        backgroundColor: BLUE, borderWidth: 2, borderDash: [2, 3.4], pointRadius: 0, tension: 0, order: 3 }
    ]
  },
  options: {
    ...common,
    layout: { padding: { top: 848, left: 0, right: 0, bottom: 0 } },
    scales: {
      x: timeAxis(true, false),
      y: valueAxis({ min: 3.27, max: 46.87, ticks: powerTicks, width: 80, grid: false,
                     title: 'Package power (W)', titlePad: 25 }),
      y1: valueAxis({ position: 'right', min: 63.63, max: 96.1, ticks: tempTicks, width: 54, grid: true })
    }
  },
  plugins: [
    legendPlugin([
      { datasets: [2, 3], title: 'power', place: 'lower left', handle: 'dotted', afterDataset: 2 },
      { datasets: [0, 1], title: 'temp', place: 'lower center', handle: 'line' }
    ]),
    rightTitle
  ]
});
</script>
</body>
</html>
